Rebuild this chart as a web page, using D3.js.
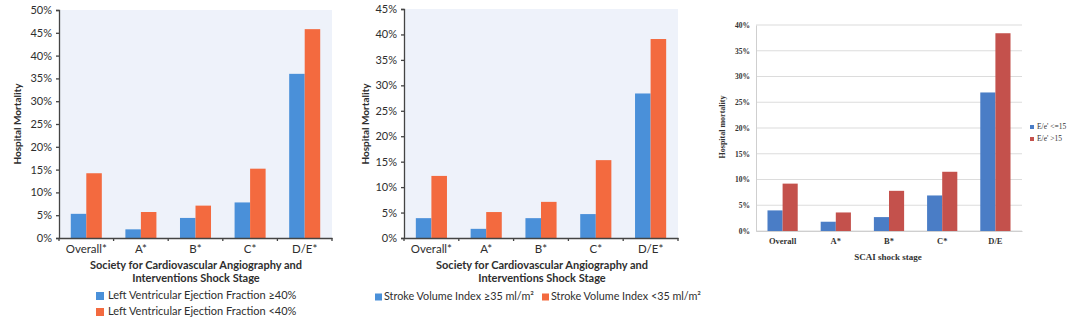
<!DOCTYPE html>
<html><head><meta charset="utf-8">
<script src="https://cdn.jsdelivr.net/npm/d3@7"></script>
<style>
html,body{margin:0;padding:0;background:#fff;}
svg{display:block;}
</style></head>
<body>
<svg id="chart" width="1080" height="322"></svg>
<script>
// ---------- data ----------
const categoriesA = ["Overall*", "A*", "B*", "C*", "D/E*"];
const lvefHigh = [5.3, 1.9, 4.4, 7.8, 36.0];   // LVEF >= 40%
const lvefLow  = [14.2, 5.7, 7.1, 15.2, 45.8]; // LVEF < 40%
const ticksA = [0, 5, 10, 15, 20, 25, 30, 35, 40, 45, 50];
const legendA = ["Left Ventricular Ejection Fraction \u226540%", "Left Ventricular Ejection Fraction <40%"];

const categoriesB = ["Overall*", "A*", "B*", "C*", "D/E*"];
const sviHigh = [3.9, 1.8, 3.9, 4.7, 28.4];   // SVI >= 35
const sviLow  = [12.2, 5.1, 7.1, 15.3, 39.1]; // SVI < 35
const ticksB = [0, 5, 10, 15, 20, 25, 30, 35, 40, 45];
const legendB = ["Stroke Volume Index \u226535 ml/m\u00B2", "Stroke Volume Index <35 ml/m\u00B2"];

const categoriesC = ["Overall", "A*", "B*", "C*", "D/E"];
const eeLow  = [4.0, 1.8, 2.7, 6.9, 26.9];   // E/e' <=15
const eeHigh = [9.2, 3.6, 7.8, 11.5, 38.4];  // E/e' >15
const ticksC = [0, 5, 10, 15, 20, 25, 30, 35, 40];
const legendC = ["E/e' <=15", "E/e' >15"];

const xTitleAB = ["Society for Cardiovascular Angiography and", "Interventions Shock Stage"];

const svg = d3.select("#chart");
const SANS = "Lato, 'Open Sans', sans-serif";
const SERIF = "'Liberation Serif', 'DejaVu Serif', serif";

function panel(opt) {
  const g = svg.append("g");
  const x = d3.scaleBand().domain(opt.categories).range([opt.x0, opt.x1]).padding(0);
  const xs = d3.scaleBand().domain([0, 1]).range([0, x.bandwidth()]).paddingInner(0).paddingOuter(opt.outer);
  const y = d3.scaleLinear().domain([0, opt.max]).range([opt.y0, opt.yTop]);

  if (opt.bg) {
    g.append("rect").attr("x", opt.x0).attr("y", y(opt.max))
      .attr("width", opt.x1 - opt.x0).attr("height", opt.y0 - y(opt.max)).attr("fill", opt.bg);
  }
  if (opt.grid) {
    g.selectAll(".grid").data(opt.ticks).join("line")
      .attr("x1", opt.x0).attr("x2", opt.x1)
      .attr("y1", d => y(d)).attr("y2", d => y(d))
      .attr("stroke", "#dcdcdc").attr("stroke-width", 1.2);
  }
  const series = [opt.s0, opt.s1];
  series.forEach((vals, si) => {
    g.selectAll(".bar" + si).data(vals).join("rect")
      .attr("x", (d, i) => x(opt.categories[i]) + xs(si))
      .attr("y", d => y(d))
      .attr("width", xs.bandwidth())
      .attr("height", d => opt.y0 - y(d))
      .attr("fill", opt.colors[si]);
  });

  // y axis
  const ya = d3.axisLeft(y).tickValues(opt.ticks).tickFormat(d => d + "%").tickSize(opt.tickSize).tickPadding(opt.tickPad);
  const yg = g.append("g").attr("transform", `translate(${opt.x0},0)`).call(ya);
  yg.select(".domain").attr("stroke", opt.axisColor).attr("stroke-width", opt.axisW);
  yg.selectAll(".tick line").attr("stroke", opt.axisColor).attr("stroke-width", opt.axisW);
  yg.selectAll("text").attr("fill", opt.textColor).attr("font-family", opt.font)
    .attr("font-size", opt.tickFont).attr("font-weight", opt.tickWeight);

  // x axis
  const xa = d3.axisBottom(x).tickSize(0).tickPadding(opt.catPad);
  const xg = g.append("g").attr("transform", `translate(0,${opt.y0})`).call(xa);
  xg.select(".domain").attr("stroke", opt.axisColor).attr("stroke-width", opt.axisW);
  xg.selectAll("text").attr("fill", opt.textColor).attr("font-family", opt.font)
    .attr("font-size", opt.catFont).attr("font-weight", opt.tickWeight);
  // boundary tick marks
  const bounds = opt.categories.map(c => x(c)).concat([opt.x1]);
  xg.selectAll(".bt").data(bounds).join("line")
    .attr("x1", d => d).attr("x2", d => d).attr("y1", 0).attr("y2", opt.tickSize)
    .attr("stroke", opt.axisColor).attr("stroke-width", opt.axisW);

  // y title
  g.append("text").attr("transform", `translate(${opt.yTitleX},${opt.yTitleY}) rotate(-90)`)
    .attr("text-anchor", "middle").attr("dominant-baseline", "middle")
    .attr("font-family", opt.font).attr("font-size", opt.yTitleFont).attr("font-weight", "bold")
    .attr("fill", opt.textColor).text(opt.yTitle);

  // x title
  opt.xTitle.forEach((t, i) => {
    g.append("text").attr("x", opt.xTitleX).attr("y", opt.xTitleY + i * opt.xTitleLH)
      .attr("text-anchor", "middle").attr("dominant-baseline", "middle")
      .attr("font-family", opt.font).attr("font-size", opt.xTitleFont).attr("font-weight", "bold")
      .attr("fill", opt.textColor).text(t);
  });

  // legend
  opt.legend.forEach((t, i) => {
    const p = opt.legendPos[i];
    g.append("rect").attr("x", p[0]).attr("y", p[1] - opt.sw / 2).attr("width", opt.sw).attr("height", opt.sw)
      .attr("fill", opt.colors[i]);
    g.append("text").attr("x", p[0] + opt.sw + opt.lgap).attr("y", p[1])
      .attr("dominant-baseline", "middle").attr("font-family", opt.font)
      .attr("font-size", opt.legendFont).attr("fill", opt.textColor).text(t);
  });
}

const blueA = "#4a90d9", redA = "#f36a3f";

panel({
  categories: categoriesA, s0: lvefHigh, s1: lvefLow, ticks: ticksA, max: 50,
  x0: 59, x1: 332, yTop: 10, y0: 238, outer: 0.76, bg: "#eef2fa", grid: false,
  colors: [blueA, redA], axisColor: "#444", axisW: 1.3, textColor: "#2e2e2e", font: SANS,
  tickSize: 3, tickPad: 4, tickFont: "11px", tickWeight: "normal", catFont: "11.5px", catPad: 7,
  yTitle: "Hospital Mortality", yTitleX: 18, yTitleY: 124, yTitleFont: "10px",
  xTitle: xTitleAB, xTitleX: 196, xTitleY: 266, xTitleLH: 13, xTitleFont: "11px",
  legend: legendA, legendPos: [[96, 296], [96, 312]], sw: 8, lgap: 4, legendFont: "11px"
});

panel({
  categories: categoriesB, s0: sviHigh, s1: sviLow, ticks: ticksB, max: 45,
  x0: 404, x1: 678, yTop: 9, y0: 238, outer: 0.76, bg: "#eef2fa", grid: false,
  colors: [blueA, redA], axisColor: "#444", axisW: 1.3, textColor: "#2e2e2e", font: SANS,
  tickSize: 3, tickPad: 4, tickFont: "11px", tickWeight: "normal", catFont: "11.5px", catPad: 7,
  yTitle: "Hospital Mortality", yTitleX: 366, yTitleY: 124, yTitleFont: "10px",
  xTitle: xTitleAB, xTitleX: 542, xTitleY: 266, xTitleLH: 13, xTitleFont: "11px",
  legend: legendB, legendPos: [[375, 297], [542, 297]], sw: 7, lgap: 2, legendFont: "10.8px"
});

panel({
  categories: categoriesC, s0: eeLow, s1: eeHigh, ticks: ticksC, max: 40,
  x0: 756, x1: 1022, yTop: 25, y0: 231, outer: 0.76, bg: null, grid: true,
  colors: ["#4a7dc6", "#c4514c"], axisColor: "#cfcfcf", axisW: 1, textColor: "#333", font: SERIF,
  tickSize: 0, tickPad: 6, tickFont: "7.5px", tickWeight: "bold", catFont: "8.5px", catPad: 7,
  yTitle: "Hospital mortality", yTitleX: 723, yTitleY: 127, yTitleFont: "8px",
  xTitle: ["SCAI shock stage"], xTitleX: 888, xTitleY: 258, xTitleLH: 12, xTitleFont: "9px",
  legend: legendC, legendPos: [[1030, 127], [1030, 139]], sw: 4, lgap: 3, legendFont: "7.5px"
});
</script>
</body></html>
